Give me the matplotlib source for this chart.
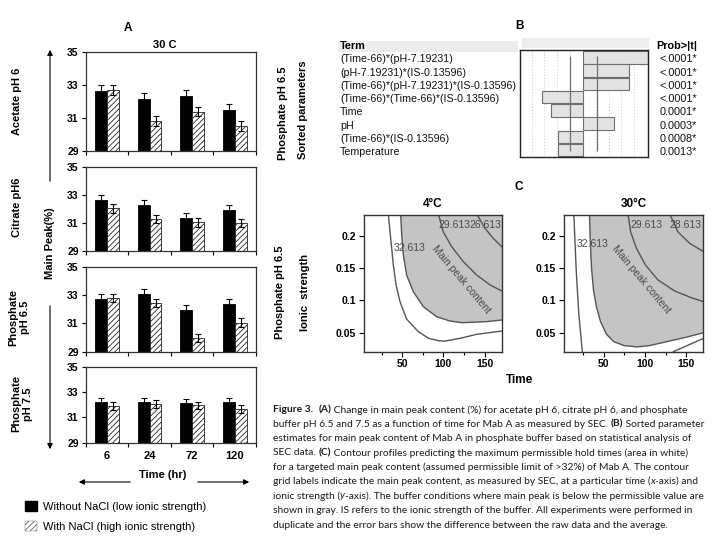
import re
import numpy as np
import matplotlib
matplotlib.use('Agg')
import matplotlib.pyplot as plt
from matplotlib import transforms
from matplotlib.patches import Rectangle, FancyArrowPatch, Patch

plt.rcParams['font.family'] = ['Liberation Sans', 'DejaVu Sans']
plt.rcParams['hatch.linewidth'] = 0.6

# ---- panel A data (main peak %) ----
times = ['6', '24', '72', '120']
buffers = ['Acetate pH 6', 'Citrate pH6', 'Phosphate\npH 6.5', 'Phosphate\npH 7.5']
acetate_no = [32.65, 32.15, 32.35, 31.5]
acetate_na = [32.7, 30.8, 31.4, 30.5]
citrate_no = [32.65, 32.3, 31.35, 31.95]
citrate_na = [32.05, 31.3, 31.05, 31.0]
phos65_no = [32.7, 33.05, 31.95, 32.35]
phos65_na = [32.8, 32.45, 29.95, 31.05]
phos75_no = [32.2, 32.2, 32.1, 32.2]
phos75_na = [31.9, 32.05, 31.95, 31.65]
err_no = [0.35, 0.35, 0.35, 0.35]
err_na = [0.3, 0.3, 0.3, 0.3]

# ---- panel B data (sorted parameter estimates) ----
terms = ['(Time-66)*(pH-7.19231)', '(pH-7.19231)*(IS-0.13596)',
         '(Time-66)*(pH-7.19231)*(IS-0.13596)', '(Time-66)*(Time-66)*(IS-0.13596)',
         'Time', 'pH', '(Time-66)*(IS-0.13596)', 'Temperature']
t_ratio = [5.05, 3.6, 3.6, -3.17, -2.52, 2.42, -1.97, -1.97]
probs = ['<.0001*', '<.0001*', '<.0001*', '<.0001*', '0.0001*', '0.0003*', '0.0008*', '0.0013*']
sig_lines = [-1.04, 1.1]

# ---- panel C data (contour curves) ----
# 4 C
c4_outer_x = [33.2, 35.2, 37.2, 39.2, 42.5, 47.3, 55.4, 69.6, 82.1, 94.3, 101.9, 120.1, 140.4, 170.8]
c4_outer_y = [0.234, 0.206, 0.181, 0.155, 0.124, 0.098, 0.071, 0.0516, 0.0413, 0.0376, 0.037, 0.0413, 0.0475, 0.0526]
c4_gray_x = [48.1, 49.4, 51.4, 55.4, 63.5, 75.6, 91.8, 108.0, 122.6, 152.5, 170.8]
c4_gray_y = [0.234, 0.201, 0.170, 0.139, 0.1135, 0.0903, 0.0748, 0.0681, 0.0655, 0.0671, 0.0697]
c4_l29_x = [93.9, 99.9, 110.0, 124.2, 140.4, 156.6, 170.8]
c4_l29_y = [0.234, 0.206, 0.1832, 0.160, 0.1393, 0.124, 0.1146]
c4_l26_x = [140.4, 150.5, 160.6, 170.8]
c4_l26_y = [0.234, 0.2116, 0.196, 0.1832]
# 30 C
c30_outer_x = [13.5, 16.5, 19.5, 24.0]
c30_outer_y = [0.234, 0.145, 0.080, 0.019]
c30_gray_x = [32.5, 33.5, 35.0, 37.5, 41.0, 46.0, 53.0, 62.0, 75.0, 90.0, 105.0, 126.0, 150.0, 171.0]
c30_gray_y = [0.234, 0.190, 0.150, 0.115, 0.090, 0.067, 0.048, 0.036, 0.030, 0.028, 0.030, 0.036, 0.043, 0.050]
c30_low_x = [134.2, 171.0]
c30_low_y = [0.0206, 0.0413]
c30_l29_x = [79.2, 82.5, 89.4, 100.3, 115.7, 135.9, 156.1, 171.0]
c30_l29_y = [0.234, 0.206, 0.181, 0.155, 0.1316, 0.1146, 0.1042, 0.098]
c30_l28_x = [129.8, 139.9, 154.1, 171.0]
c30_l28_y = [0.234, 0.206, 0.1883, 0.1754]

caption = [
    "**Figure 3.**  **(A)** Change in main peak content (%) for acetate pH 6, citrate pH 6, and phosphate",
    "buffer pH 6.5 and 7.5 as a function of time for Mab A as measured by SEC. **(B)** Sorted parameter",
    "estimates for main peak content of Mab A in phosphate buffer based on statistical analysis of",
    "SEC data. **(C)** Contour profiles predicting the maximum permissible hold times (area in white)",
    "for a targeted main peak content (assumed permissible limit of >32%) of Mab A. The contour",
    "grid labels indicate the main peak content, as measured by SEC, at a particular time (*x*-axis) and",
    "ionic strength (*y*-axis). The buffer conditions where main peak is below the permissible value are",
    "shown in gray. IS refers to the ionic strength of the buffer. All experiments were performed in",
    "duplicate and the error bars show the difference between the raw data and the average.",
]

fig = plt.figure(figsize=(7.2, 5.4), dpi=100)


def fx(px):
    return px / 720


def fy(py):
    return 1 - py / 540


def box(left, top, right, bottom):
    return [fx(left), fy(bottom), (right - left) / 720, (bottom - top) / 540]


# ================= Panel A =================
no_sets = [acetate_no, citrate_no, phos65_no, phos75_no]
na_sets = [acetate_na, citrate_na, phos65_na, phos75_na]
rows = [(52.3, 151), (167.3, 251), (266.7, 351.7), (366.7, 442.7)]
label_pos = [(17, 101), (17, 207), (19, 317), (22, 404)]
x = np.arange(len(times))
w = 0.28
for i, (top, bot) in enumerate(rows):
    ax = fig.add_axes(box(85.7, top, 256, bot))
    ax.bar(x - w / 2, no_sets[i], w, color='black', edgecolor='black', lw=0.6)
    ax.bar(x + w / 2, na_sets[i], w, color='white', edgecolor='#222222', hatch='//////', lw=0.6)
    ax.errorbar(x - w / 2, no_sets[i], yerr=err_no, fmt='none', ecolor='black',
                elinewidth=0.8, capsize=2.2, capthick=0.8)
    ax.errorbar(x + w / 2, na_sets[i], yerr=err_na, fmt='none', ecolor='black',
                elinewidth=0.8, capsize=2.2, capthick=0.8)
    ax.set_ylim(29, 35)
    ax.set_xlim(-0.5, len(times) - 0.5)
    ax.set_yticks([29, 31, 33, 35])
    ax.set_yticklabels(['29', '31', '33', '35'], fontweight='bold', fontsize=7.5)
    ax.tick_params(axis='y', length=3, width=0.8, pad=2)
    ax.set_xticks(x)
    ax.set_xticks(np.arange(len(times) + 1) - 0.5, minor=True)
    ax.tick_params(axis='x', which='major', length=0, pad=6)
    ax.tick_params(axis='x', which='minor', length=3, width=0.8)
    if i == len(rows) - 1:
        ax.set_xticklabels(times, fontweight='bold', fontsize=8)
    else:
        ax.set_xticklabels([])
    for s in ax.spines.values():
        s.set_linewidth(0.9)
        s.set_color('#333333')
    lx, ly = label_pos[i]
    fig.text(fx(lx), fy(ly), buffers[i], rotation=90, ha='center', va='center',
             fontweight='bold', fontsize=8, multialignment='center')

fig.text(fx(128), fy(28), 'A', ha='center', va='center', fontweight='bold', fontsize=8.5)
fig.text(fx(165), fy(45), '30 C', ha='center', va='center', fontweight='bold', fontsize=8)
fig.text(fx(50), fy(243), 'Main Peak(%)', rotation=90, ha='center', va='center',
         fontweight='bold', fontsize=8)
fig.text(fx(163), fy(475), 'Time (hr)', ha='center', va='center', fontweight='bold', fontsize=8)

arrow_kw = dict(transform=fig.transFigure, arrowstyle='-|>', mutation_scale=8, lw=0.8, color='black')
fig.add_artist(FancyArrowPatch((fx(50), fy(184)), (fx(50), fy(47)), **arrow_kw))
fig.add_artist(FancyArrowPatch((fx(50), fy(303)), (fx(50), fy(452)), **arrow_kw))
fig.add_artist(FancyArrowPatch((fx(133), fy(482)), (fx(76), fy(482)), **arrow_kw))
fig.add_artist(FancyArrowPatch((fx(195), fy(482)), (fx(252), fy(482)), **arrow_kw))

handles = [Patch(facecolor='black', edgecolor='black'),
           Patch(facecolor='white', edgecolor='#666666', hatch='//////', lw=0.3)]
fig.legend(handles, ['Without NaCl (low ionic strength)', 'With NaCl (high ionic strength)'],
           loc='upper left', bbox_to_anchor=(fx(21), fy(497)), frameon=False, fontsize=8,
           handlelength=1.0, handleheight=1.0, handletextpad=0.6, labelspacing=0.8,
           borderaxespad=0)

# ================= Panel B =================
axB = fig.add_axes(box(520, 50, 648.3, 156.7))
rows_b = np.arange(len(terms))
for g in [-4, -3, -2, -1, 1, 2, 3, 4]:
    axB.axvline(g, color='#b8b8b8', lw=0.6, ls=(0, (1, 2.5)), zorder=0)
axB.barh(rows_b, t_ratio, height=0.95, color='#e3e3e3', edgecolor='#6e6e6e', lw=0.8, zorder=2)
axB.vlines(sig_lines, -0.1, len(terms) - 0.9, color='#707070', lw=0.9, zorder=3)
axB.set_xlim(-4.9, 5.1)
axB.set_ylim(len(terms) - 0.5, -0.55)
axB.set_xticks([])
axB.set_yticks([])
for s in axB.spines.values():
    s.set_linewidth(1.0)
    s.set_color('#222222')

fig.add_artist(Rectangle((fx(338), fy(51.7)), 180 / 720, 11 / 540, transform=fig.transFigure,
                         facecolor='#ececec', edgecolor='none', zorder=0))
fig.add_artist(Rectangle((fx(522), fy(48.3)), 127 / 720, 10.6 / 540, transform=fig.transFigure,
                         facecolor='#ececec', edgecolor='none', zorder=0))
trB = transforms.blended_transform_factory(fig.transFigure, axB.transData)
for i, t in enumerate(terms):
    fig.text(fx(340), i + 0.15, t, transform=trB, ha='left', va='center', fontsize=7.65, color='#111111')
    fig.text(fx(697), i + 0.15, probs[i], transform=trB, ha='right', va='center', fontsize=7.8, color='#111111')
fig.text(fx(340), fy(46), 'Term', ha='left', va='center', fontweight='bold', fontsize=7.8)
fig.text(fx(697), fy(46), 'Prob>|t|', ha='right', va='center', fontweight='bold', fontsize=7.8)
fig.text(fx(519), fy(26), 'B', ha='center', va='center', fontweight='bold', fontsize=8.5)
fig.text(fx(283), fy(113), 'Phosphate pH 6.5', rotation=90, ha='center', va='center',
         fontweight='bold', fontsize=8)
fig.text(fx(303), fy(110), 'Sorted parameters', rotation=90, ha='center', va='center',
         fontweight='bold', fontsize=8)

# ================= Panel C =================
fill_c = '#c4c4c4'
line_c = '#555555'
lab_c = '#4a4a4a'


def contour_axes(rect, xlim, ylim, gray, lines, labels, title):
    ax = fig.add_axes(rect)
    gx, gy = gray
    ax.fill(list(gx) + [xlim[1] + 5, xlim[1] + 5], list(gy) + [gy[-1], ylim[1] + 0.01],
            color=fill_c, lw=0)
    ax.plot(gx, gy, color=line_c, lw=1.0)
    for lxs, lys in lines:
        ax.plot(lxs, lys, color=line_c, lw=1.0)
    for txt, tx, ty, rot in labels:
        ax.text(tx, ty, txt, ha='center', va='center', fontsize=7.5, color=lab_c, rotation=rot)
    ax.set_xlim(*xlim)
    ax.set_ylim(*ylim)
    ax.set_xticks([50, 100, 150])
    ax.set_xticks([25, 75, 125], minor=True)
    ax.set_xticklabels(['50', '100', '150'], fontweight='bold', fontsize=7.5)
    ax.set_yticks([0.05, 0.1, 0.15, 0.2])
    ax.set_yticklabels(['0.05', '0.1', '0.15', '0.2'], fontweight='bold', fontsize=7.5)
    ax.tick_params(which='major', length=3.5, width=0.8, pad=2)
    ax.tick_params(which='minor', length=2.5, width=0.8)
    for s in ax.spines.values():
        s.set_linewidth(1.0)
        s.set_color('#333333')
    ax.set_title(title, fontweight='bold', fontsize=8.5, pad=6)
    return ax


ylim_c = (0.0206, 0.2322)
contour_axes(box(364, 215, 501.7, 351.7), (3.6, 170.8), ylim_c,
             (c4_gray_x, c4_gray_y),
             [(c4_outer_x, c4_outer_y), (c4_l29_x, c4_l29_y), (c4_l26_x, c4_l26_y)],
             [('32.613', 59, 0.1806, 0), ('29.613', 113, 0.2167, 0), ('26.613', 150.5, 0.2167, 0),
              ('Main peak content', 121, 0.133, -50)],
             '4°C')
contour_axes(box(564, 215, 703, 351.7), (1.6, 170.3), ylim_c,
             (c30_gray_x, c30_gray_y),
             [(c30_outer_x, c30_outer_y), (c30_low_x, c30_low_y), (c30_l29_x, c30_l29_y),
              (c30_l28_x, c30_l28_y)],
             [('32.613', 36, 0.188, 0), ('29.613', 101.5, 0.2167, 0), ('28.613', 149, 0.2167, 0),
              ('Main peak content', 95.4, 0.133, -50)],
             '30°C')

fig.text(fx(519), fy(187), 'C', ha='center', va='center', fontweight='bold', fontsize=8.5)
fig.text(fx(520), fy(380), 'Time', ha='center', va='center', fontweight='bold', fontsize=8.5)
fig.text(fx(280), fy(292), 'Phosphate pH 6.5', rotation=90, ha='center', va='center',
         fontweight='bold', fontsize=8)
fig.text(fx(305), fy(292), 'Ionic  strength', rotation=90, ha='center', va='center',
         fontweight='bold', fontsize=8)

# ================= Caption =================
renderer = fig.canvas.get_renderer()
cap_font = ['Lato', 'DejaVu Sans']
cap_size = 7.38


def text_width(s, **kw):
    t = fig.text(0, 0, '|' + s + '|', fontsize=cap_size, family=cap_font, **kw)
    w1 = t.get_window_extent(renderer).width
    t.remove()
    t = fig.text(0, 0, '||', fontsize=cap_size, family=cap_font, **kw)
    w0 = t.get_window_extent(renderer).width
    t.remove()
    return (w1 - w0) / fig.bbox.width


line_y = [410, 424.3, 438.5, 452.8, 467, 481.5, 496, 510.5, 525]
for line, py in zip(caption, line_y):
    xx = fx(273)
    for seg in re.split(r'(\*\*.*?\*\*|\*.*?\*)', line):
        if not seg:
            continue
        kw = {}
        if seg.startswith('**'):
            seg = seg[2:-2]
            kw['fontweight'] = 'bold'
        elif seg.startswith('*'):
            seg = seg[1:-1]
            kw['fontstyle'] = 'italic'
        fig.text(xx, fy(py), seg, fontsize=cap_size, family=cap_font, va='center',
                 color='#1a1a1a', **kw)
        xx += text_width(seg, **kw)

fig.savefig('out.png', dpi=100)
